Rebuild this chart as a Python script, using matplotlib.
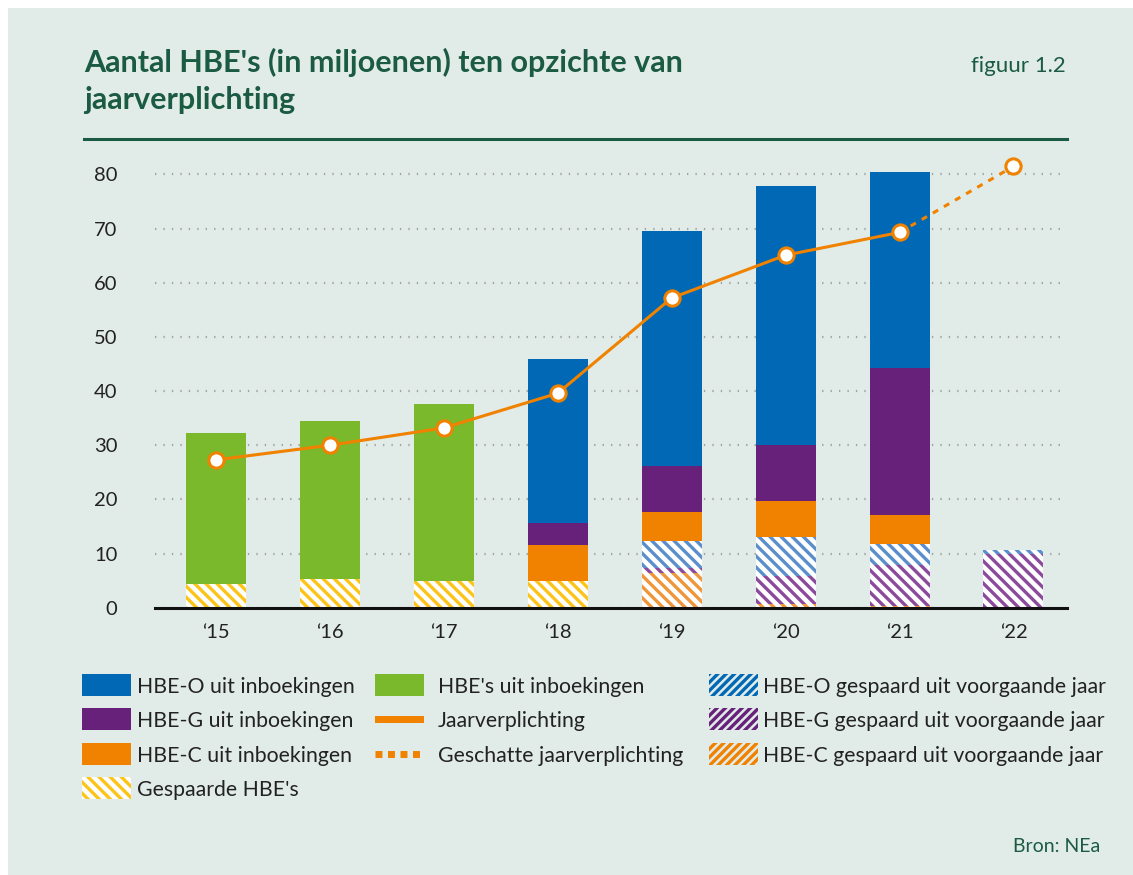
import matplotlib
matplotlib.use("Agg")
import matplotlib.pyplot as plt
from matplotlib.patches import Rectangle
import numpy as np

plt.rcParams["font.family"] = ["Lato", "DejaVu Sans"]
plt.rcParams["hatch.linewidth"] = 2.4

# data (miljoenen HBE's)
years = ["\u201815", "\u201816", "\u201817", "\u201818", "\u201819", "\u201820", "\u201821", "\u201822"]
gespaard = [4.4, 5.35, 5.0, 4.9, 0, 0, 0, 0]
c_gespaard = [0, 0, 0, 0, 6.35, 0.6, 0.3, 0]
g_gespaard = [0, 0, 0, 0, 0.95, 5.25, 7.6, 9.85]
o_gespaard = [0, 0, 0, 0, 4.95, 7.15, 3.9, 0.75]
hbe_c = [0, 0, 0, 6.7, 5.45, 6.7, 5.3, 0]
hbe_g = [0, 0, 0, 4.0, 8.5, 10.3, 27.2, 0]
hbe_o = [0, 0, 0, 30.3, 43.4, 47.8, 36.1, 0]
hbe_s = [27.8, 29.15, 32.6, 0, 0, 0, 0, 0]
jaarverpl = [27.3, 30.0, 33.2, 39.6, 57.2, 65.1, 69.3]
geschat = [69.3, 81.5]

BG = "#e1ebe7"
GREEN_T = "#1b5a43"
BLUE, PURPLE, ORANGE, LIME = "#0068b4", "#68217a", "#f08200", "#7ab92b"
BLUE_H, PURPLE_H, ORANGE_H, YELLOW_H = "#5b8fcc", "#8b4a9c", "#f0963a", "#fcc419"
BAR_HATCH = "\\\\\\"

W, H = 1133, 875
fig = plt.figure(figsize=(W / 100, H / 100), dpi=100)
fig.patch.set_facecolor("white")
fig.patches.append(Rectangle((8 / W, 0), 1, 1 - 8 / H, transform=fig.transFigure,
                             facecolor=BG, edgecolor="none", zorder=-10))

# axes in pixel coords: left 155, right 1067, bottom 607.7, top 155
ax = fig.add_axes([155 / W, (H - 607.7) / H, (1067 - 155) / W, (607.7 - 155) / H])
ax.set_facecolor("none")

x = np.arange(len(years))
bw = 0.527
segments = [
    (gespaard, "white", YELLOW_H, BAR_HATCH),
    (c_gespaard, "white", ORANGE_H, BAR_HATCH),
    (g_gespaard, "white", PURPLE_H, BAR_HATCH),
    (o_gespaard, "white", BLUE_H, BAR_HATCH),
    (hbe_c, ORANGE, ORANGE, None),
    (hbe_g, PURPLE, PURPLE, None),
    (hbe_o, BLUE, BLUE, None),
    (hbe_s, LIME, LIME, None),
]
bottom = np.zeros(len(years))
for vals, fc, ec, hatch in segments:
    vals = np.array(vals, dtype=float)
    ax.bar(x, vals, bw, bottom=bottom, color=fc, edgecolor=ec, hatch=hatch,
           linewidth=0, zorder=3)
    bottom += vals

ax.plot(x[:7], jaarverpl, color=ORANGE, lw=2.2, zorder=4)
ax.plot(x[6:8], geschat, color=ORANGE, lw=2.2, ls=(0, (2, 2.2)), zorder=4)
ax.plot(x[:7], jaarverpl, ls="", marker="o", ms=11, mfc="white", mec=ORANGE,
        mew=2.2, zorder=5)
ax.plot(x[7:8], geschat[1:], ls="", marker="o", ms=11, mfc="white", mec=ORANGE,
        mew=2.2, zorder=5)

ax.set_xlim(-0.535, 7.47)
ax.set_ylim(0, 83.6)
ax.set_yticks(range(0, 81, 10))
ax.set_xticks(x)
ax.set_xticklabels(years)
ax.tick_params(axis="both", length=0, labelsize=14.5, colors="#222222")
ax.tick_params(axis="y", pad=27)
ax.tick_params(axis="x", pad=12)
for s in ["top", "right", "left"]:
    ax.spines[s].set_visible(False)
ax.spines["bottom"].set_linewidth(2.2)
ax.spines["bottom"].set_color("#111111")
ax.spines["bottom"].set_zorder(6)
ax.yaxis.grid(True, color="#a0a4a2", lw=1.6, ls=(0, (0.6, 3.2)), zorder=0)
ax.set_axisbelow(True)

# title block
fig.text(84 / W, 1 - 48 / H, "Aantal HBE's (in miljoenen) ten opzichte van\njaarverplichting",
         fontsize=22, fontweight="bold", color=GREEN_T, va="top", ha="left",
         linespacing=1.38)
fig.text(1066 / W, 1 - 66 / H, "figuur 1.2", fontsize=16, color=GREEN_T,
         ha="right", va="center")
fig.lines.append(plt.Line2D([84 / W, 1067 / W], [1 - 139 / H, 1 - 139 / H],
                            transform=fig.transFigure, color=GREEN_T, lw=2.2))
fig.text(1100 / W, 1 - 847 / H, "Bron: NEa", fontsize=14, color=GREEN_T,
         ha="right", va="center")

# legend (drawn by hand, three columns)
rows = [685, 719, 754, 788]
cols = [(82, 137), (375, 438), (709, 763)]
legend = [
    (0, 0, "solid", BLUE, "HBE-O uit inboekingen"),
    (0, 1, "solid", PURPLE, "HBE-G uit inboekingen"),
    (0, 2, "solid", ORANGE, "HBE-C uit inboekingen"),
    (0, 3, "yhatch", YELLOW_H, "Gespaarde HBE's"),
    (1, 0, "solid", LIME, "HBE's uit inboekingen"),
    (1, 1, "line", ORANGE, "Jaarverplichting"),
    (1, 2, "dots", ORANGE, "Geschatte jaarverplichting"),
    (2, 0, "hatch", BLUE, "HBE-O gespaard uit voorgaande jaar"),
    (2, 1, "hatch", PURPLE, "HBE-G gespaard uit voorgaande jaar"),
    (2, 2, "hatch", ORANGE, "HBE-C gespaard uit voorgaande jaar"),
]
pw, ph = 49, 22
for c, r, kind, col, label in legend:
    px, tx = cols[c]
    yc = rows[r]
    if kind == "solid":
        fig.patches.append(Rectangle((px / W, 1 - (yc + ph / 2) / H), pw / W, ph / H,
                                     transform=fig.transFigure, facecolor=col,
                                     edgecolor="none"))
    elif kind == "yhatch":
        fig.patches.append(Rectangle((px / W, 1 - (yc + ph / 2) / H), pw / W, ph / H,
                                     transform=fig.transFigure, facecolor="white",
                                     edgecolor=col, hatch=BAR_HATCH, linewidth=0))
    elif kind == "hatch":
        fig.patches.append(Rectangle((px / W, 1 - (yc + ph / 2) / H), pw / W, ph / H,
                                     transform=fig.transFigure, facecolor="none",
                                     edgecolor=col, hatch="////", linewidth=0))
    elif kind == "line":
        fig.patches.append(Rectangle((px / W, 1 - (yc + 3.5) / H), pw / W, 7 / H,
                                     transform=fig.transFigure, facecolor=col,
                                     edgecolor="none"))
    else:
        fig.lines.append(plt.Line2D([px / W, (px + pw) / W], [1 - yc / H, 1 - yc / H],
                                    transform=fig.transFigure, color=col, lw=5,
                                    ls=(0, (1.0, 0.8))))
    fig.text(tx / W, 1 - (yc + 2) / H, label, fontsize=15.3, color="#222222",
             ha="left", va="center")

fig.savefig("out.png", dpi=100, facecolor="white")
